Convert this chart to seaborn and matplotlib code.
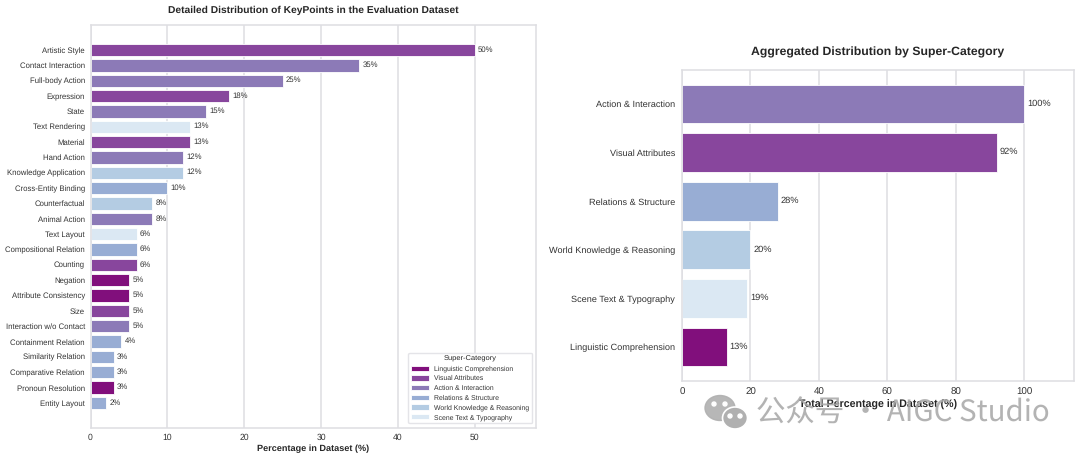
import matplotlib
matplotlib.use("Agg")
import matplotlib.pyplot as plt
from matplotlib.patches import Ellipse
import pandas as pd
import seaborn as sns

keypoints = ["Artistic Style", "Contact Interaction", "Full-body Action", "Expression", "State",
             "Text Rendering", "Material", "Hand Action", "Knowledge Application", "Cross-Entity Binding",
             "Counterfactual", "Animal Action", "Text Layout", "Compositional Relation", "Counting",
             "Negation", "Attribute Consistency", "Size", "Interaction w/o Contact", "Containment Relation",
             "Similarity Relation", "Comparative Relation", "Pronoun Resolution", "Entity Layout"]
keypoint_values = [50, 35, 25, 18, 15, 13, 13, 12, 12, 10, 8, 8, 6, 6, 6, 5, 5, 5, 5, 4, 3, 3, 3, 2]
LC, VA, AI, RS, WK, ST = ("Linguistic Comprehension", "Visual Attributes", "Action & Interaction",
                          "Relations & Structure", "World Knowledge & Reasoning", "Scene Text & Typography")
keypoint_groups = [VA, AI, AI, VA, AI, ST, VA, AI, WK, RS, WK, AI, ST, RS, VA, LC, LC, VA, AI, RS, RS, RS, LC, RS]
super_order = [LC, VA, AI, RS, WK, ST]
super_colors = ["#810f7c", "#88469d", "#8c7ab7", "#98add4", "#b4cce3", "#dbe8f3"]
agg_categories = [AI, VA, RS, WK, ST, LC]
agg_values = [100, 92, 28, 20, 19, 13]

sns.set_theme(style="whitegrid")
plt.rcParams["font.family"] = ["Liberation Sans", "DejaVu Sans"]
plt.rcParams["text.hinting"] = "none"
palette = dict(zip(super_order, super_colors))
GRID = "#dedee2"
TXT = "#333333"

fig = plt.figure(figsize=(10.8, 4.57), dpi=100)
W, H = 1080, 457
ax1 = fig.add_axes([90.5 / W, 1 - 427.5 / H, (535.5 - 90.5) / W, (427.5 - 25.5) / H])
ax2 = fig.add_axes([682 / W, 1 - 381 / H, (1074 - 682) / W, (381 - 70) / H])

df1 = pd.DataFrame({"kp": keypoints, "v": keypoint_values, "g": keypoint_groups})
df2 = pd.DataFrame({"kp": agg_categories, "v": agg_values})

sns.barplot(data=df1, y="kp", x="v", hue="g", hue_order=super_order, palette=palette, dodge=False,
            width=0.8, saturation=1, edgecolor="white", linewidth=0.6, ax=ax1, legend=True)
sns.barplot(data=df2, y="kp", x="v", hue="kp", hue_order=super_order, palette=palette, dodge=False,
            width=0.8, saturation=1, edgecolor="white", linewidth=0.6, ax=ax2, legend=False)

for ax in (ax1, ax2):
    ax.grid(axis="y", visible=False)
    ax.grid(axis="x", color=GRID, linewidth=1.1)
    ax.set_axisbelow(True)
    for s in ax.spines.values():
        s.set_color(GRID)
        s.set_linewidth(1.1)
    ax.set_ylabel("")

for y, v in enumerate(keypoint_values):
    ax1.annotate(f"{v}%", (v, y), xytext=(2.4, 0.3), textcoords="offset points", va="center", ha="left",
                 fontsize=5.6, color=TXT)
for y, v in enumerate(agg_values):
    ax2.annotate(f"{v}%", (v, y), xytext=(2.0, 0.5), textcoords="offset points", va="center", ha="left",
                 fontsize=6.7, color=TXT)

ax1.set_xlim(0, 57.9)
ax1.set_ylim(23 + 1.6, -1.6)
ax1.set_xticks(range(0, 51, 10))
ax1.tick_params(axis="y", labelsize=5.6, labelcolor=TXT, length=0, pad=4)
ax1.tick_params(axis="x", labelsize=6.2, labelcolor=TXT, length=0, pad=4.5)
ax1.set_xlabel("Percentage in Dataset (%)", fontsize=6.6, fontweight="bold", color="#262626", labelpad=1.5)
ax1.set_title("Detailed Distribution of KeyPoints in the Evaluation Dataset", fontsize=7.4, fontweight="bold",
              color="#262626", pad=9)

ax2.set_xlim(0, 114.5)
ax2.set_ylim(5 + 0.7, -0.7)
ax2.set_xticks(range(0, 101, 20))
ax2.tick_params(axis="y", labelsize=6.55, labelcolor=TXT, length=0, pad=5)
ax2.tick_params(axis="x", labelsize=7, labelcolor=TXT, length=0, pad=5)
ax2.set_xlabel("Total Percentage in Dataset (%)", fontsize=7.7, fontweight="bold", color="#262626", labelpad=1.5)
ax2.set_title("Aggregated Distribution by Super-Category", fontsize=8.8, fontweight="bold",
              color="#262626", pad=10.5)

handles, labels = ax1.get_legend_handles_labels()
ax1.legend(handles, labels, title="Super-Category", loc="lower right", fontsize=4.95, title_fontsize=5.4,
           frameon=True, facecolor="white", edgecolor="#e4e4e8", framealpha=1, labelcolor=TXT,
           borderaxespad=0.0, labelspacing=0.46, handlelength=2.6, handleheight=0.8, borderpad=0.4,
           handletextpad=0.8, bbox_to_anchor=(0.9925, 0.0105))

# Watermark
wm = "#a9a9a9"
fig.text(756 / W, 1 - 413 / H, "公众号 · AIGC Studio", fontsize=21.2, color=wm, alpha=0.88, va="center", ha="left",
         family=["Noto Sans CJK SC", "DejaVu Sans"], zorder=10)
fx = lambda x: x / W
fy = lambda y: 1 - y / H
fig.add_artist(Ellipse((fx(720), fy(408)), 30 / W, 25 / H, transform=fig.transFigure, color="#b0b0b0", alpha=0.9, zorder=10))
fig.add_artist(Ellipse((fx(735), fy(418)), 25 / W, 22 / H, transform=fig.transFigure, facecolor="#b0b0b0",
                       edgecolor="white", linewidth=1.2, zorder=11))
for x, y, c in [(714, 404, "white"), (725, 404, "white"), (730, 416, "white"), (740, 416, "white")]:
    fig.add_artist(Ellipse((fx(x), fy(y)), 4 / W, 4 / H, transform=fig.transFigure, color=c, zorder=12))

fig.savefig("out.png", dpi=100)
